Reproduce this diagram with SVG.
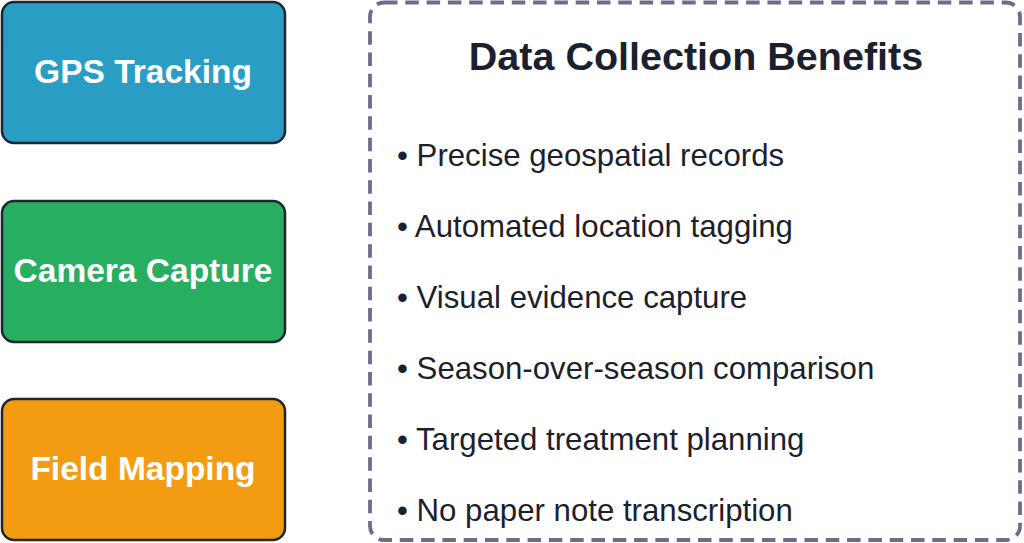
<svg xmlns="http://www.w3.org/2000/svg" width="1024" height="543" viewBox="0 0 1024 543">
<style>
.node{stroke:#1f2633;stroke-width:2.5}
.nl{font-family:"Liberation Sans",Arial,sans-serif;font-weight:bold;font-size:33.5px;fill:#ffffff;text-anchor:middle}
.title{font-family:"Liberation Sans",Arial,sans-serif;font-weight:bold;font-size:39.5px;fill:#1c1f2e;text-anchor:middle}
.item{font-family:"Liberation Sans",Arial,sans-serif;font-size:31.2px;fill:#1c1f2e}
</style>
<rect width="1024" height="543" fill="#ffffff"/>
<g id="gps">
<rect class="node" x="2" y="2" width="283" height="141" rx="12" fill="#2a9dc4"/>
<text class="nl" x="143" y="83">GPS Tracking</text>
</g>
<g id="camera">
<rect class="node" x="2" y="201" width="283" height="141" rx="12" fill="#27ae60"/>
<text class="nl" x="143" y="282">Camera Capture</text>
</g>
<g id="mapping">
<rect class="node" x="2" y="399" width="283" height="141" rx="12" fill="#f39c12"/>
<text class="nl" x="143" y="480">Field Mapping</text>
</g>
<g id="benefits">
<rect x="370" y="2.5" width="650" height="537.5" rx="14" fill="#ffffff" stroke="#6b6e8a" stroke-width="3.8" stroke-dasharray="13.5 7.8"/>
<text class="title" x="696" y="70">Data Collection Benefits</text>
<text class="item" x="397" y="166">• Precise geospatial records</text>
<text class="item" x="397" y="237">• Automated location tagging</text>
<text class="item" x="397" y="308">• Visual evidence capture</text>
<text class="item" x="397" y="379">• Season-over-season comparison</text>
<text class="item" x="397" y="450">• Targeted treatment planning</text>
<text class="item" x="397" y="521">• No paper note transcription</text>
</g>
<g id="connectors"></g>
</svg>
